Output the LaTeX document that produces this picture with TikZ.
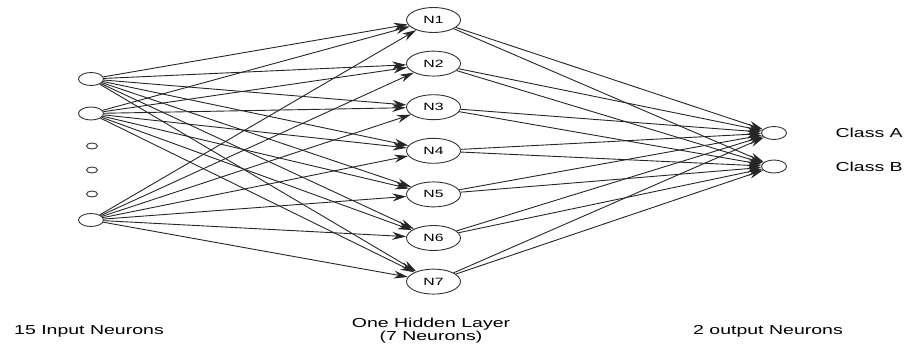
\documentclass[tikz,border=0pt]{standalone}
\usepackage{fontspec}
\setmainfont[FakeStretch=1.5]{Liberation Sans}
\usetikzlibrary{shapes.geometric,arrows.meta}

\begin{document}
\begin{tikzpicture}[x=1pt,y=-1pt,
  neuron/.style={draw=black!80,line width=0.9pt,ellipse,minimum width=25pt,minimum height=13pt,inner sep=0pt},
  hidden/.style={draw=black!80,line width=0.9pt,ellipse,minimum width=54pt,minimum height=25pt,inner sep=0pt,font=\fontsize{10.5}{11}\selectfont},
  dot/.style={draw=black!80,line width=0.9pt,ellipse,minimum width=11pt,minimum height=6pt,inner sep=0pt},
  link/.style={draw=black!85,line width=0.9pt,-{Stealth[length=14pt,width=8pt]}},
  caption/.style={font=\fontsize{13}{12}\selectfont,align=center}]
\useasboundingbox (0,0) rectangle (907,345);

% input layer
\node[neuron] (i1) at (91,79) {};
\node[neuron] (i2) at (91,113.5) {};
\node[neuron] (i3) at (91,220) {};
\node[dot] (d1) at (92,146) {};
\node[dot] (d2) at (92,170) {};
\node[dot] (d3) at (92,194) {};

% hidden layer
\foreach \n/\y in {1/20,2/63.6,3/107.2,4/150.8,5/194.4,6/238,7/281.6}
  \node[hidden] (h\n) at (433.5,\y) {N\n};

% output layer
\node[neuron] (oA) at (774,133) {};
\node[neuron] (oB) at (774,166.5) {};
\node[caption,anchor=west] (cA) at (832,133) {Class A};
\node[caption,anchor=west] (cB) at (832,166.5) {Class B};

% connections
\foreach \i in {1,2,3}
  \foreach \n in {1,...,7}
    \draw[link] (i\i) -- (h\n);
\foreach \n in {1,...,7}
  \foreach \o in {A,B}
    \draw[link] (h\n) -- (o\o);

% layer captions
\node[caption] (lin) at (89,331) {15 Input Neurons};
\node[caption] (lhid) at (431,331) {One Hidden Layer\\(7 Neurons)};
\node[caption] (lout) at (768,331) {2 output Neurons};
\end{tikzpicture}
\end{document}
